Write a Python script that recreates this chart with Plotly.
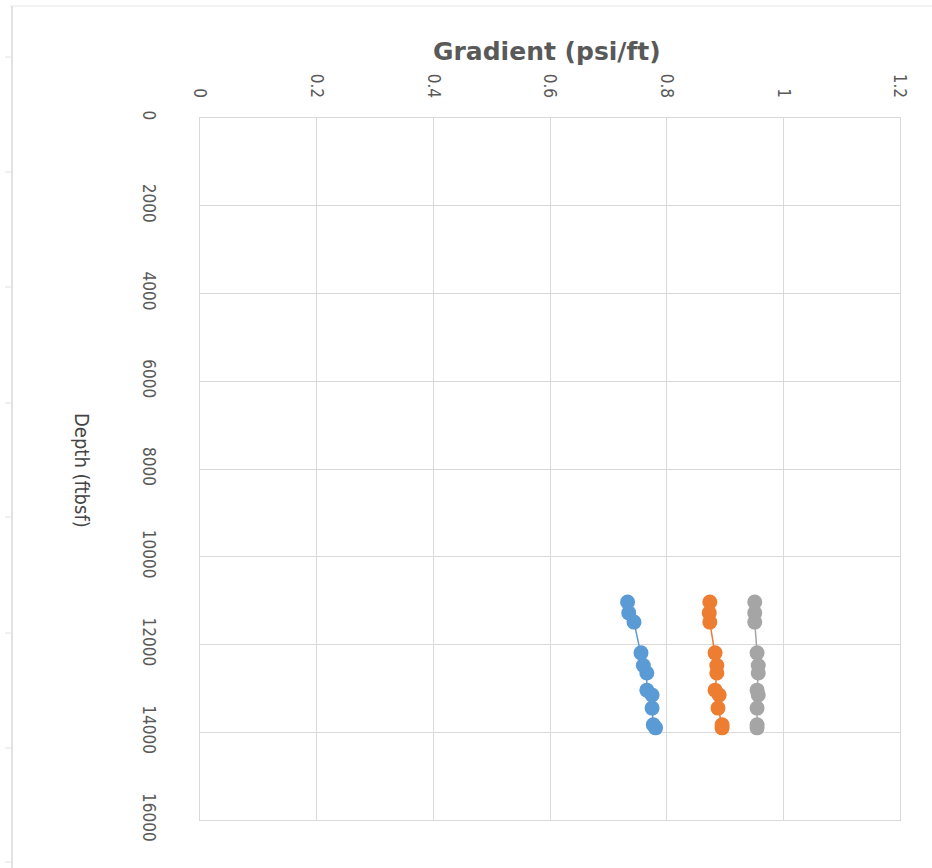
import plotly.graph_objects as go

# Depth of each gradient measurement (ft below sea floor)
depth_ftbsf = [11030, 11280, 11490, 12190, 12480, 12650, 13040, 13150, 13450, 13830, 13900]

# Gradient profiles (psi/ft)
grad_blue = [0.733, 0.735, 0.744, 0.756, 0.760, 0.766, 0.766, 0.775, 0.775, 0.777, 0.781]
grad_orange = [0.874, 0.873, 0.874, 0.883, 0.886, 0.886, 0.883, 0.890, 0.888, 0.895, 0.895]
grad_gray = [0.951, 0.951, 0.951, 0.955, 0.957, 0.957, 0.955, 0.957, 0.955, 0.955, 0.955]

x_ticks = [0, 0.2, 0.4, 0.6, 0.8, 1, 1.2]
x_tick_text = ["0", "0.2", "0.4", "0.6", "0.8", "1", "1.2"]
y_ticks = [0, 2000, 4000, 6000, 8000, 10000, 12000, 14000, 16000]
y_tick_text = [str(v) for v in y_ticks]

W, H = 932, 868
L, R, T, B = 200, 32, 118, 48
TXT = "#595959"
GRID = "#d9d9d9"
NARROW = "DejaVu Sans Condensed, Liberation Sans Narrow, Liberation Sans, sans-serif"


def px_x(px):
    return (px - L) / (W - L - R)


def px_y(py):
    return 1 - (py - T) / (H - T - B)


fig = go.Figure()
for vals, col in [(grad_blue, "#5B9BD5"), (grad_orange, "#ED7D31"), (grad_gray, "#A5A5A5")]:
    fig.add_trace(go.Scatter(
        x=vals, y=depth_ftbsf, mode="lines+markers",
        line=dict(color=col, width=1.5),
        marker=dict(color=col, size=15, line=dict(width=0)),
        showlegend=False,
    ))

fig.update_xaxes(
    side="top", range=[0, 1.2], tickvals=x_ticks, ticktext=x_tick_text,
    tickangle=90, tickfont=dict(family=NARROW, size=17, color=TXT),
    showgrid=True, gridcolor=GRID, gridwidth=1, zeroline=False,
    showline=True, linecolor=GRID, mirror=True, ticks="", ticklabelstandoff=13,
)
fig.update_yaxes(
    range=[16000, 0], tickvals=y_ticks, ticktext=y_tick_text,
    tickangle=90, tickfont=dict(family=NARROW, size=17, color=TXT),
    showgrid=True, gridcolor=GRID, gridwidth=1, zeroline=False,
    showline=True, linecolor=GRID, mirror=True, ticks="", ticklabelstandoff=36,
)

annotations = [
    dict(text="<b>Gradient (psi/ft)</b>", x=px_x(547), y=px_y(52), xref="paper", yref="paper",
         xanchor="center", yanchor="middle", showarrow=False,
         font=dict(family="DejaVu Sans, sans-serif", size=25, color=TXT)),
    dict(text="Depth (ftbsf)", x=px_x(82), y=px_y(470), xref="paper", yref="paper",
         xanchor="center", yanchor="middle", showarrow=False, textangle=90,
         font=dict(family=NARROW, size=20, color="#444444")),
]

# sheet outline at the page edge
shapes = [
    dict(type="line", xref="paper", yref="paper", x0=px_x(12), x1=px_x(12), y0=px_y(6), y1=px_y(868),
         line=dict(color="#e2e2e2", width=2)),
    dict(type="line", xref="paper", yref="paper", x0=px_x(10), x1=px_x(932), y0=px_y(6), y1=px_y(6),
         line=dict(color="#e6e6e6", width=1)),
]
for ty in [57, 172, 287, 403, 517, 633, 748, 862]:
    shapes.append(dict(type="line", xref="paper", yref="paper", x0=px_x(5), x1=px_x(12),
                       y0=px_y(ty), y1=px_y(ty), line=dict(color="#e2e2e2", width=1)))

fig.update_layout(
    width=W, height=H, margin=dict(l=L, r=R, t=T, b=B),
    paper_bgcolor="white", plot_bgcolor="white",
    annotations=annotations, shapes=shapes,
)

fig.write_html("out.html")
